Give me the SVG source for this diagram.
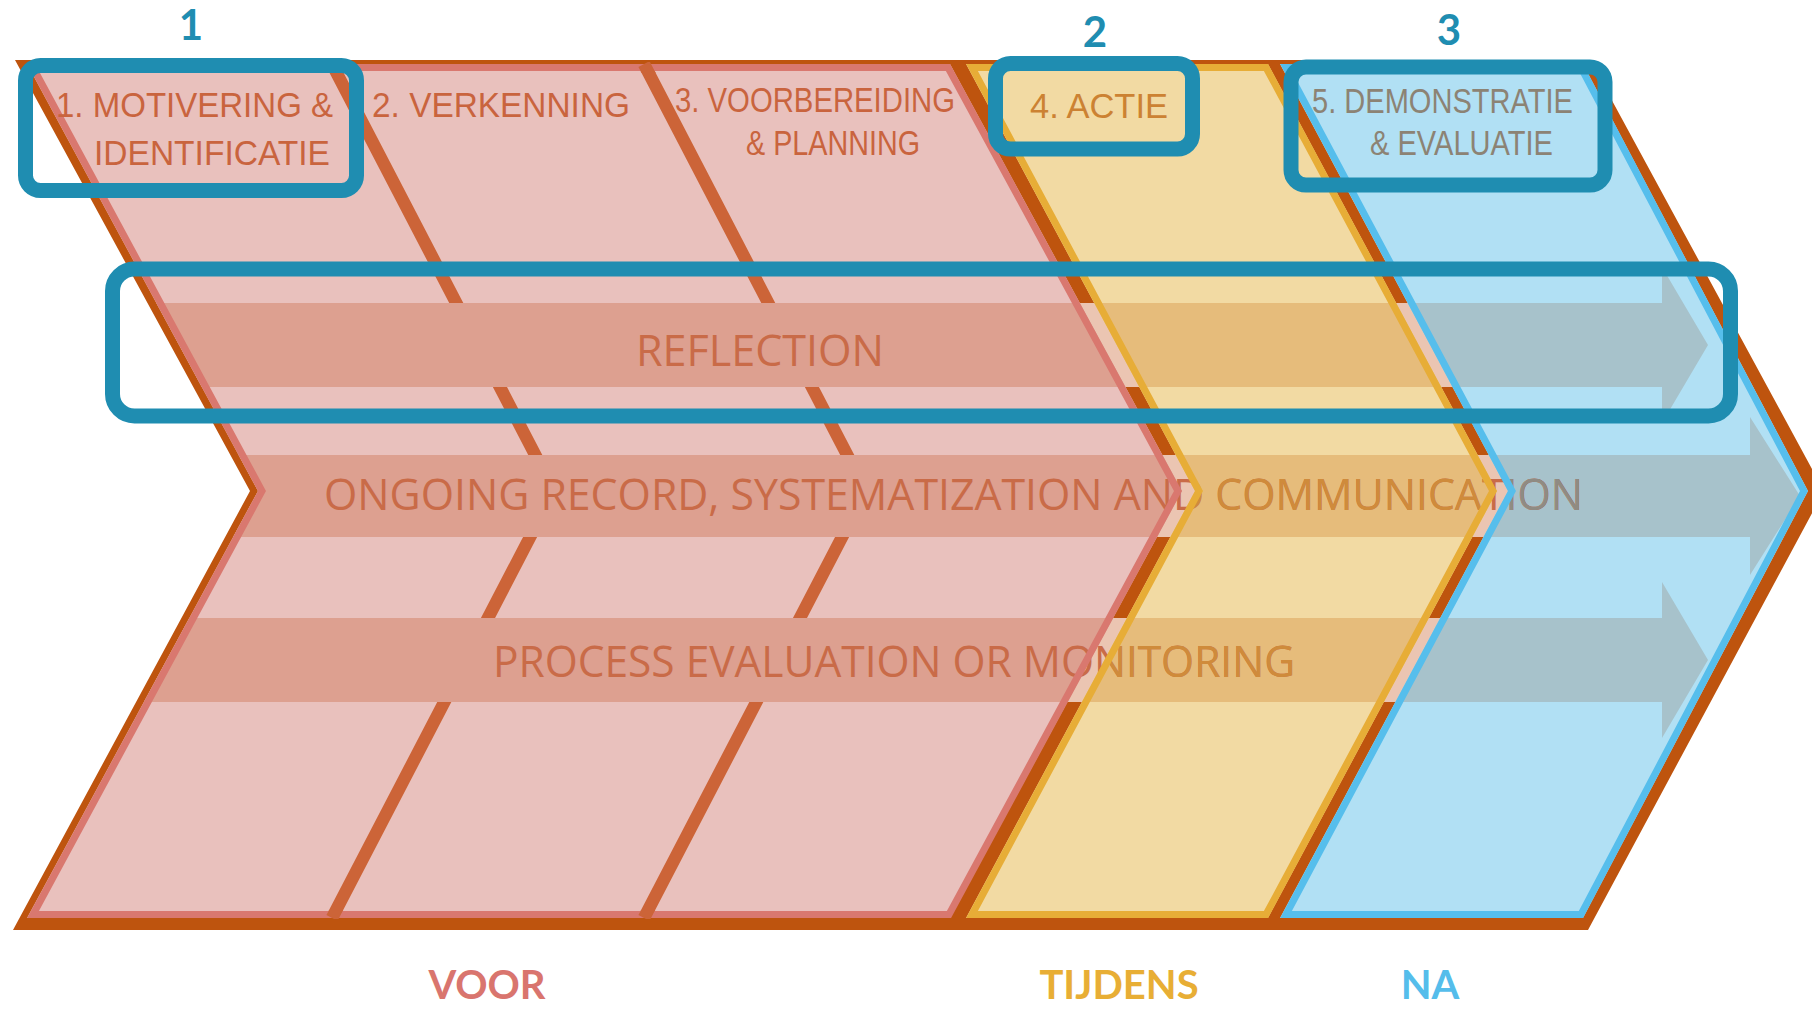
<svg xmlns="http://www.w3.org/2000/svg" width="1812" height="1009" viewBox="0 0 1812 1009">
<style>
.lbl{font-family:"Liberation Sans",Arial,sans-serif;font-size:35px}
.band{font-family:"Open Sans","Liberation Sans",sans-serif;font-size:43px}
.hl{fill:none;stroke:#1F8DB1;stroke-width:15}
.num{font-family:Lato,"Open Sans",sans-serif;font-weight:700;font-size:42px;fill:#1F8DB1;text-anchor:middle}
.phase{font-family:Lato,"Open Sans",sans-serif;font-weight:700;font-size:40px;text-anchor:middle}
.div{fill:none;stroke:#CC6438;stroke-width:12.5;stroke-linejoin:miter}
.edge{fill:none;stroke-width:7;stroke-linejoin:miter}
</style>
<defs>
  <clipPath id="cp-pink"><polygon points="27,64 950,64 1182,491 950,918 27,918 258,491"/></clipPath>
  <clipPath id="cp-yellow"><polygon points="966,64 1268,64 1497,491 1268,918 966,918 1195,491"/></clipPath>
  <clipPath id="cp-blue"><polygon points="1280,64 1583,64 1808,491 1583,918 1280,918 1508,491"/></clipPath>
  <clipPath id="cp-caps"><rect x="0" y="62" width="1812" height="11"/><rect x="0" y="910" width="1812" height="9"/></clipPath>
  <path id="arrow-refl" d="M0,303 H1662 V267 L1708,345 L1662,423 V387 H0 Z"/>
  <path id="arrow-rec" d="M0,455 H1750 V417 L1800,496 L1750,575 V537 H0 Z"/>
  <path id="arrow-eval" d="M0,618 H1662 V582 L1708,660 L1662,738 V702 H0 Z"/>
  <text id="t-refl" class="band" x="636" y="366" font-size="46" textLength="248" lengthAdjust="spacingAndGlyphs">REFLECTION</text>
  <text id="t-rec" class="band" x="324" y="510" textLength="1259" lengthAdjust="spacingAndGlyphs">ONGOING RECORD, SYSTEMATIZATION AND COMMUNICATION</text>
  <text id="t-eval" class="band" x="493" y="677" textLength="802" lengthAdjust="spacingAndGlyphs">PROCESS EVALUATION OR MONITORING</text>
  <g id="dividers">
    <polyline points="332,64 554,491 332,918"/>
    <polyline points="644,64 866,491 644,918"/>
  </g>
</defs>

<!-- outer brown chevron -->
<polygon id="chevron" points="15,60 1590,60 1824,491 1588,930 13,930 250,491" fill="#BE540E"/>

<!-- band colour showing through the gaps between phases -->
<g id="band-gaps" fill="#EBC5B2">
  <rect x="1000" y="303" width="560" height="84"/>
  <rect x="1000" y="455" width="560" height="82"/>
  <rect x="1000" y="618" width="560" height="84"/>
</g>

<!-- phase fills -->
<g id="phase-fills">
  <polygon points="27,64 950,64 1182,491 950,918 27,918 258,491" fill="#E9C1BD"/>
  <polygon points="966,64 1268,64 1497,491 1268,918 966,918 1195,491" fill="#F2DAA3"/>
  <polygon points="1280,64 1583,64 1808,491 1583,918 1280,918 1508,491" fill="#B1E0F4"/>
</g>

<!-- step dividers in the first phase -->
<g clip-path="url(#cp-pink)" class="div"><use href="#dividers"/></g>

<!-- cross-cutting arrows, tinted per phase -->
<g id="arrows">
  <g clip-path="url(#cp-pink)" fill="#DDA090">
    <use href="#arrow-refl"/><use href="#arrow-rec"/><use href="#arrow-eval"/>
  </g>
  <g clip-path="url(#cp-yellow)" fill="#E6BC7B">
    <use href="#arrow-refl"/><use href="#arrow-rec"/><use href="#arrow-eval"/>
  </g>
  <g clip-path="url(#cp-blue)" fill="#A7C2CB">
    <use href="#arrow-refl"/><use href="#arrow-rec"/><use href="#arrow-eval"/>
  </g>
</g>

<!-- arrow labels -->
<g id="arrow-labels">
  <use href="#t-refl" fill="#C96B48"/>
  <use href="#t-rec" fill="#C96B48"/>
  <use href="#t-eval" fill="#C96B48"/>
  <g clip-path="url(#cp-yellow)" fill="#CF8B3B"><use href="#t-rec"/><use href="#t-eval"/></g>
  <g clip-path="url(#cp-blue)" fill="#8F8B83"><use href="#t-rec"/></g>
</g>

<!-- phase borders -->
<g id="phase-borders">
  <polygon class="edge" stroke="#D9786F" points="33,67.5 948,67.5 1178,491 949,914.5 33,914.5 262,491"/>
  <polygon class="edge" stroke="#E7AD37" points="972,67.5 1266,67.5 1493,491 1266,914.5 972,914.5 1199,491"/>
  <polygon class="edge" stroke="#56BEEC" points="1286,67.5 1581,67.5 1804,491 1581,914.5 1286,914.5 1512,491"/>
</g>
<g clip-path="url(#cp-caps)" class="div"><use href="#dividers"/></g>

<!-- step titles -->
<g id="step-1" class="lbl" fill="#C9643E">
  <text x="56" y="117" textLength="277" lengthAdjust="spacingAndGlyphs">1. MOTIVERING &amp;</text>
  <text x="94" y="165" textLength="236" lengthAdjust="spacingAndGlyphs">IDENTIFICATIE</text>
</g>
<g id="step-2" class="lbl" fill="#C9643E">
  <text x="372" y="117" textLength="258" lengthAdjust="spacingAndGlyphs">2. VERKENNING</text>
</g>
<g id="step-3" class="lbl" fill="#C9643E" font-size="30">
  <text x="675" y="112" textLength="280" lengthAdjust="spacingAndGlyphs">3. VOORBEREIDING</text>
  <text x="746" y="155" textLength="174" lengthAdjust="spacingAndGlyphs">&amp; PLANNING</text>
</g>
<g id="step-4" class="lbl" fill="#CC8233" font-size="38">
  <text x="1030" y="118" textLength="138" lengthAdjust="spacingAndGlyphs">4. ACTIE</text>
</g>
<g id="step-5" class="lbl" fill="#8C8374" font-size="31">
  <text x="1312" y="113" textLength="261" lengthAdjust="spacingAndGlyphs">5. DEMONSTRATIE</text>
  <text x="1370" y="155" textLength="183" lengthAdjust="spacingAndGlyphs">&amp; EVALUATIE</text>
</g>

<!-- highlight frames -->
<g id="highlight-1">
  <rect class="hl" x="25.5" y="65.5" width="331" height="125" rx="15"/>
  <text class="num" x="191" y="40">1</text>
</g>
<g id="highlight-2">
  <rect class="hl" x="995.5" y="63.5" width="197" height="85.5" rx="15"/>
  <text class="num" x="1095" y="47">2</text>
</g>
<g id="highlight-3">
  <rect class="hl" x="1291" y="67" width="314" height="118" rx="15"/>
  <text class="num" x="1449" y="45">3</text>
</g>
<g id="highlight-reflection">
  <rect class="hl" x="112.5" y="269" width="1618" height="147" rx="22"/>
</g>

<!-- phase names -->
<g id="phase-names" class="phase">
  <text x="487" y="999" fill="#D9756E">VOOR</text>
  <text x="1119" y="999" fill="#E8AE35">TIJDENS</text>
  <text x="1430" y="999" fill="#55BDEB">NA</text>
</g>
</svg>
